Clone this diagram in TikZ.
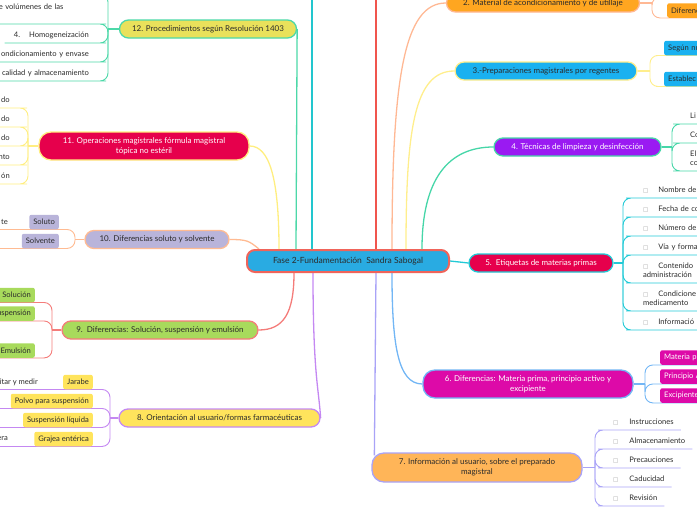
\documentclass[tikz,border=0pt]{standalone}
\usepackage{fontspec}
\setmainfont{Lato}
\newfontfamily\symbfont{DejaVu Sans}
\usetikzlibrary{backgrounds}

\definecolor{ink}{HTML}{2B2B2B}
\definecolor{tofu}{HTML}{9A9A9A}
\definecolor{hubfill}{HTML}{29ABE2}
\definecolor{hubline}{HTML}{F0645A}
\definecolor{upcyan}{HTML}{22C6CE}
\definecolor{upred}{HTML}{F0554E}
\definecolor{fill12}{HTML}{E9E15B}
\definecolor{line12}{HTML}{4CD8A8}
\definecolor{fill11}{HTML}{E6004C}
\definecolor{line11}{HTML}{FFEE80}
\definecolor{fill10}{HTML}{B9B4DA}
\definecolor{line10}{HTML}{FFBB92}
\definecolor{fill9}{HTML}{A8DA5C}
\definecolor{line9}{HTML}{F47C7A}
\definecolor{fill8}{HTML}{FFE45C}
\definecolor{line8}{HTML}{C488F2}
\definecolor{fill2}{HTML}{FFA620}
\definecolor{line2}{HTML}{FFB894}
\definecolor{fill3}{HTML}{1AB1F0}
\definecolor{line3}{HTML}{FFEE8C}
\definecolor{fill4}{HTML}{9A1AF2}
\definecolor{line4}{HTML}{46D6A8}
\definecolor{fill5}{HTML}{E6004C}
\definecolor{line5}{HTML}{22CAD6}
\definecolor{fill6}{HTML}{DD0AA8}
\definecolor{line6}{HTML}{72B6F5}
\definecolor{fill7}{HTML}{FFB558}
\definecolor{line7}{HTML}{A9A3F7}

\newcommand{\bul}{{\symbfont\fontsize{5.5}{6}\selectfont\color{tofu}□}}

\tikzstyle{hub}=[draw=hubline, line width=2pt, fill=hubfill, rounded corners=8pt, minimum width=202pt, minimum height=22pt, inner sep=0pt, text=ink, font=\fontsize{8.5}{10}\selectfont]
\tikzstyle{topic}=[line width=1.3pt, rounded corners=9pt, minimum height=18pt, inner sep=0pt, align=center, text=ink, font=\fontsize{8}{9.8}\selectfont]
\tikzstyle{leafL}=[anchor=south east, inner xsep=9pt, inner ysep=0pt, text depth=5.3pt, align=right, text=ink, font=\fontsize{7.6}{9.5}\selectfont]
\tikzstyle{leafR}=[leafL, anchor=south west, align=left]
\tikzstyle{twoline}=[text depth=14.8pt]
\tikzstyle{tagL}=[anchor=east, rounded corners=2pt, minimum height=14.5pt, inner xsep=4pt, inner ysep=0pt, text=ink, font=\fontsize{7.6}{9}\selectfont]
\tikzstyle{tagR}=[tagL, anchor=west, text width=60pt, align=left]
\tikzstyle{note}=[anchor=east, inner sep=0pt, text=ink, font=\fontsize{7.6}{9}\selectfont]
\tikzstyle{link}=[line width=1.3pt]
\tikzstyle{twig}=[line width=0.9pt, rounded corners=8pt]

\begin{document}
\begin{tikzpicture}[x=1pt, y=-1pt]
\useasboundingbox (0,0) rectangle (697,520);
\clip (0,0) rectangle (697,520);

\node[hub] (hub) at (348,261) {Fase 2-Fundamentación\ \ Sandra Sabogal};

% left branches
\node[topic, fill=fill12, draw=line12, minimum width=177pt] (b12) at (208,29) {12. Procedimientos según Resolución 1403};
\node[topic, fill=fill11, draw=line11, minimum width=210pt, minimum height=28pt, rounded corners=12pt, text=white] (b11) at (144,146) {11. Operaciones magistrales fórmula magistral\\tópica no estéril};
\node[topic, fill=fill10, draw=line10, minimum width=144pt] (b10) at (157,239.5) {10. Diferencias soluto y solvente};
\node[topic, fill=fill9, draw=line9, minimum width=196pt] (b9) at (160,330) {9.\ \ Diferencias: Solución, suspensión y emulsión};
\node[topic, fill=fill8, draw=line8, minimum width=201pt] (b8) at (219.5,418) {8. Orientación al usuario/formas farmacéuticas};

% right branches
\node[topic, fill=fill2, draw=line2, minimum width=193pt] (b2) at (543,3) {2. Material de acondicionamiento y de utillaje};
\node[topic, fill=fill3, draw=line3, minimum width=182pt] (b3) at (546,71) {3.-Preparaciones magistrales por regentes};
\node[topic, fill=fill4, draw=line4, minimum width=167pt, text=white] (b4) at (577.5,147) {4. Técnicas de limpieza y desinfección};
\node[topic, fill=fill5, draw=line5, minimum width=144pt, text=white] (b5) at (541,263) {5.\ \ Etiquetas de materias primas};
\node[topic, fill=fill6, draw=line6, minimum width=210pt, minimum height=28pt, rounded corners=12pt, text=white] (b6) at (528,384) {6. Diferencias: Materia prima, principio activo y\\excipiente};
\node[topic, fill=fill7, draw=line7, minimum width=210pt, minimum height=29pt, rounded corners=12pt] (b7) at (477,467.5) {7. Información al usuario, sobre el preparado\\magistral};

% junctions and free ends
\coordinate (j12) at (108,29);
\coordinate (j11) at (28,146);
\coordinate (j10) at (75,239.5);
\coordinate (j9) at (52,330);
\coordinate (j8) at (110,418);
\coordinate (j2) at (652,3);
\coordinate (j3) at (650,71);
\coordinate (j4) at (672,147);
\coordinate (j5) at (623,263);
\coordinate (j6) at (645,384);
\coordinate (j7) at (595,467.5);
\coordinate (lft) at (-4,0);
\coordinate (rgt) at (701,0);
\coordinate (up1) at (312,-4);
\coordinate (up13) at (376,-4);
\coordinate (up12) at (-4,-6);
\coordinate (up2) at (701,-3);

% leaves 12
\node[leafL, twoline, text width=90pt, align=left] (l12a) at (98,24) {e volúmenes de las\\\mbox{}};
\node[leafL] (l12b) at (98,43) {4.\hspace{9pt}Homogeneización};
\node[leafL, text width=100pt] (l12c) at (98,62) {ondicionamiento y envase};
\node[leafL, text width=100pt] (l12d) at (98,81) {calidad y almacenamiento};

% leaves 11
\node[leafL, text width=40pt] (l11a) at (19,108) {do};
\node[leafL, text width=40pt] (l11b) at (19,127) {do};
\node[leafL, text width=40pt] (l11c) at (19,146) {do};
\node[leafL, text width=40pt] (l11d) at (19,165) {nto};
\node[leafL, text width=40pt] (l11e) at (19,184) {ón};

% leaves 10
\node[tagL, fill=fill10] (t10a) at (59,222) {Soluto};
\node[tagL, fill=fill10] (t10b) at (59,241) {Solvente};
\node[note] (n10a) at (8,222) {te};

% leaves 9
\node[tagL, fill=fill9] (t9a) at (35,295) {Solución};
\node[tagL, fill=fill9] (t9b) at (35,313.5) {uspensión};
\node[tagL, fill=fill9] (t9c) at (35,350.5) {Emulsión};

% leaves 8
\node[tagL, fill=fill8] (t8a) at (93,382) {Jarabe};
\node[tagL, fill=fill8] (t8b) at (93,401) {Polvo para suspensión};
\node[tagL, fill=fill8] (t8c) at (93,420) {Suspensión líquida};
\node[tagL, fill=fill8] (t8d) at (93,439) {Grajea entérica};
\node[note] (n8a) at (38,382) {itar y medir};
\node[note] (n8d) at (8,439) {era};

% leaves 2 and 3
\node[tagR, fill=fill2] (t2a) at (667,10.5) {Diferenc};
\node[tagR, fill=fill3] (t3a) at (664,48) {Según nu};
\node[tagR, fill=fill3] (t3b) at (664,79) {Establec};

% leaves 4
\node[leafR, text width=60pt] (l4a) at (681,124) {Li};
\node[leafR, text width=60pt] (l4b) at (681,143) {Co};
\node[leafR, twoline, text width=60pt] (l4c) at (681,171) {El\\co};

% leaves 5
\node[leafR, text width=100pt] (l5a) at (634,198) {\bul\hspace{10pt}Nombre de};
\node[leafR, text width=100pt] (l5b) at (634,217) {\bul\hspace{10pt}Fecha de co};
\node[leafR, text width=100pt] (l5c) at (634,236) {\bul\hspace{10pt}Número de};
\node[leafR, text width=100pt] (l5d) at (634,255) {\bul\hspace{10pt}Vía y forma};
\node[leafR, twoline, text width=100pt] (l5e) at (634,283) {\bul\hspace{10pt}Contenido\\administración};
\node[leafR, twoline, text width=100pt] (l5f) at (634,311) {\bul\hspace{10pt}Condicione\\medicamento};
\node[leafR, text width=100pt] (l5g) at (634,330) {\bul\hspace{10pt}Informació};

% leaves 6
\node[tagR, fill=fill6, text=white] (t6a) at (660,357.5) {Materia p};
\node[tagR, fill=fill6, text=white] (t6b) at (660,376.5) {Principio A};
\node[tagR, fill=fill6, text=white] (t6c) at (660,395.5) {Excipiente};

% leaves 7
\node[leafR, inner xsep=7pt] (l7a) at (606,430) {\bul\hspace{11pt}Instrucciones};
\node[leafR, inner xsep=7pt] (l7b) at (606,449) {\bul\hspace{11pt}Almacenamiento};
\node[leafR, inner xsep=7pt] (l7c) at (606,468) {\bul\hspace{11pt}Precauciones};
\node[leafR, inner xsep=7pt] (l7d) at (606,487) {\bul\hspace{11pt}Caducidad};
\node[leafR, inner xsep=7pt] (l7e) at (606,506) {\bul\hspace{11pt}Revisión};

\begin{scope}[on background layer]
% hub to branches
\draw[link, upcyan] ([xshift=-36pt]hub.north) -- (up1);
\draw[link, upred] ([xshift=28pt]hub.north) -- (up13);
\draw[link, line12] (b12.east) -- ([xshift=-52pt]hub.north);
\draw[link, line11] (b11.east) .. controls +(20,0) and +(0,-70) .. ([xshift=-69pt]hub.north);
\draw[link, line10] (b10.east) .. controls +(18,0) and +(-10,-8) .. ([xshift=13pt]hub.north west);
\draw[link, line9] ([xshift=-54pt]hub.south) .. controls +(0,40) and +(25,0) .. (b9.east);
\draw[link, line8] ([xshift=-35pt]hub.south) .. controls +(0,100) and +(-2,-30) .. (b8.east);
\draw[link, line7] ([xshift=28pt]hub.south) -- ([xshift=3pt,yshift=-3pt]b7.north west);
\draw[link, line6] ([xshift=44pt]hub.south) .. controls +(0,70) and +(-25,0) .. (b6.west);
\draw[link, line5] (hub.east) -- (b5.west);
\draw[link, line4] ([xshift=74pt]hub.north) .. controls +(0,-70) and +(-45,0) .. (b4.west);
\draw[link, line3] ([xshift=58pt]hub.north) .. controls +(0,-120) and +(-40,0) .. (b3.west);
\draw[link, line2] ([xshift=44pt]hub.north) .. controls +(0,-170) and +(-42,0) .. (b2.west);

% branch 12
\draw[link, line12] (b12.west) -- (j12);
\draw[twig, line12] (j12) |- (up12);
\draw[twig, line12] (j12) |- (l12a.south east) -- (l12a.south west);
\draw[twig, line12] (j12) |- (l12b.south east) -- (l12b.south west);
\draw[twig, line12] (j12) |- (l12c.south east) -- (l12c.south west);
\draw[twig, line12] (j12) |- (l12d.south east) -- (l12d.south west);

% branch 11
\draw[link, line11] (b11.west) -- (j11);
\draw[twig, line11] (j11) |- (l11a.south east) -- (l11a.south west);
\draw[twig, line11] (j11) |- (l11b.south east) -- (l11b.south west);
\draw[twig, line11] (j11) |- (l11c.south east) -- (l11c.south west);
\draw[twig, line11] (j11) |- (l11d.south east) -- (l11d.south west);
\draw[twig, line11] (j11) |- (l11e.south east) -- (l11e.south west);

% branch 10
\draw[link, line10] (b10.west) -- (j10);
\draw[twig, line10] (j10) |- (t10a.south east) -- (t10a.south east -| lft);
\draw[twig, line10] (j10) |- (t10b.south east) -- (t10b.south east -| lft);

% branch 9
\draw[link, line9] (b9.west) -- (j9);
\draw[twig, line9] (j9) |- (t9a.south east) -- (t9a.south east -| lft);
\draw[twig, line9] (j9) |- (t9b.south east) -- (t9b.south east -| lft);
\draw[twig, line9] (j9) |- (t9c.south east) -- (t9c.south east -| lft);

% branch 8
\draw[link, line8] (b8.west) -- (j8);
\draw[twig, line8] (j8) |- (t8a.south east) -- (t8a.south east -| lft);
\draw[twig, line8] (j8) |- (t8b.south east) -- (t8b.south east -| lft);
\draw[twig, line8] (j8) |- (t8c.south east) -- (t8c.south east -| lft);
\draw[twig, line8] (j8) |- (t8d.south east) -- (t8d.south east -| lft);

% branch 2 and 3
\draw[link, line2] (b2.east) -- (j2);
\draw[twig, line2] (j2) |- (up2);
\draw[twig, line2] (j2) |- (t2a.south west) -- (t2a.south west -| rgt);
\draw[link, line3] (b3.east) -- (j3);
\draw[twig, line3] (j3) |- (t3a.south west) -- (t3a.south west -| rgt);
\draw[twig, line3] (j3) |- (t3b.south west) -- (t3b.south west -| rgt);

% branch 4
\draw[link, line4] (b4.east) -- (j4);
\draw[twig, line4] (j4) |- (l4a.south west) -- (l4a.south east);
\draw[twig, line4] (j4) |- (l4b.south west) -- (l4b.south east);
\draw[twig, line4] (j4) |- (l4c.south west) -- (l4c.south east);

% branch 5
\draw[link, line5] (b5.east) -- (j5);
\draw[twig, line5] (j5) |- (l5a.south west) -- (l5a.south east);
\draw[twig, line5] (j5) |- (l5b.south west) -- (l5b.south east);
\draw[twig, line5] (j5) |- (l5c.south west) -- (l5c.south east);
\draw[twig, line5] (j5) |- (l5d.south west) -- (l5d.south east);
\draw[twig, line5] (j5) |- (l5e.south west) -- (l5e.south east);
\draw[twig, line5] (j5) |- (l5f.south west) -- (l5f.south east);
\draw[twig, line5] (j5) |- (l5g.south west) -- (l5g.south east);

% branch 6
\draw[link, line6] (b6.east) -- (j6);
\draw[twig, line6] (j6) |- (t6a.south west) -- (t6a.south west -| rgt);
\draw[twig, line6] (j6) |- (t6b.south west) -- (t6b.south west -| rgt);
\draw[twig, line6] (j6) |- (t6c.south west) -- (t6c.south west -| rgt);

% branch 7
\draw[link, line7] (b7.east) -- (j7);
\draw[twig, line7] (j7) |- (l7a.south west) -- (l7a.south east);
\draw[twig, line7] (j7) |- (l7b.south west) -- (l7b.south east);
\draw[twig, line7] (j7) |- (l7c.south west) -- (l7c.south east);
\draw[twig, line7] (j7) |- (l7d.south west) -- (l7d.south east);
\draw[twig, line7] (j7) |- (l7e.south west) -- (l7e.south east);
\end{scope}
\end{tikzpicture}
\end{document}
